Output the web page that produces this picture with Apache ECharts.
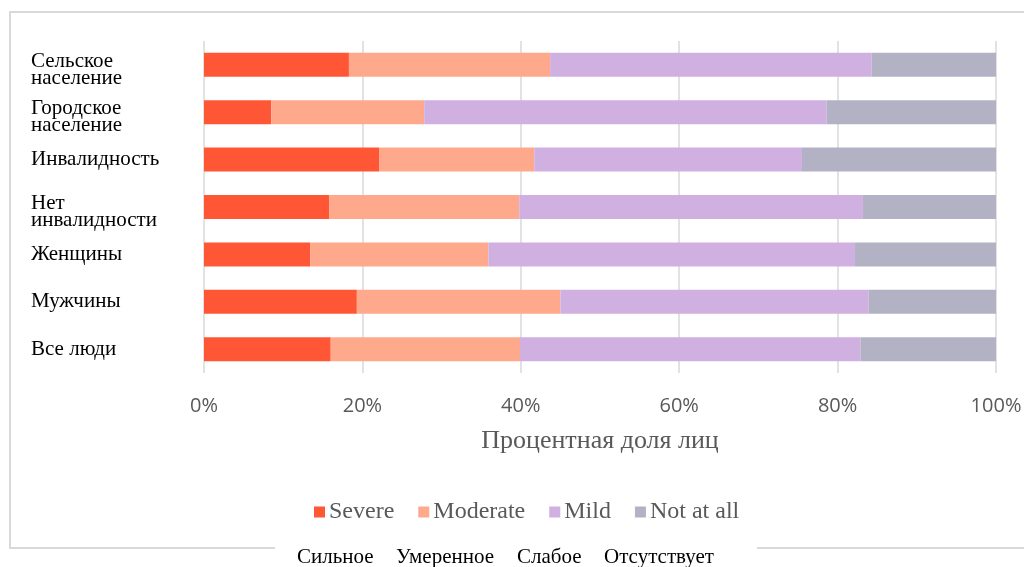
<!DOCTYPE html>
<html>
<head>
<meta charset="utf-8">
<script src="https://cdn.jsdelivr.net/npm/echarts@6/dist/echarts.min.js"></script>
<style>
  html, body { margin: 0; padding: 0; background: #fff; }
  #chart { width: 1024px; height: 567px; }
</style>
</head>
<body>
<div id="chart"></div>
<script>
// categories, top to bottom
const categories = [
  'Сельское\nнаселение',
  'Городское\nнаселение',
  'Инвалидность',
  'Нет\nинвалидности',
  'Женщины',
  'Мужчины',
  'Все люди',
];

// percentages
const severe   = [18.3,  8.5, 22.1, 15.8, 13.4, 19.3, 16.0];
const moderate = [25.4, 19.3, 19.6, 24.0, 22.5, 25.7, 23.9];
const mild     = [40.6, 50.8, 33.8, 43.4, 46.3, 38.9, 43.0];
const notAtAll = [15.7, 21.4, 24.5, 16.8, 17.8, 16.1, 17.1];

const seriesNames = ['Severe', 'Moderate', 'Mild', 'Not at all'];
const seriesColors = ['#FF5736', '#FFA98C', '#CFB0E1', '#B3B2C4'];
const xTicks = [0, 20, 40, 60, 80, 100];
const bottomWords = ['Сильное', 'Умеренное', 'Слабое', 'Отсутствует'];

const SERIF = '"Liberation Serif", "DejaVu Serif", serif';
const SANS = '"Open Sans", "Noto Sans", sans-serif';

const chart = echarts.init(document.getElementById('chart'));

const series = [severe, moderate, mild, notAtAll].map((vals, i) => ({
  name: seriesNames[i],
  type: 'bar',
  stack: 'total',
  barWidth: 24,
  data: vals,
  itemStyle: { color: seriesColors[i] },
  emphasis: { disabled: true },
}));

// positions of the translated words under the frame
const wordX = [297, 396, 517, 604];

const option = {
  backgroundColor: '#fff',
  animation: false,
  grid: { left: 204, right: 28, top: 41, bottom: 194, outerBoundsMode: 'none' },
  legend: {
    data: seriesNames,
    left: 314,
    top: 500,
    padding: 0,
    itemWidth: 11,
    itemHeight: 11,
    itemGap: 24,
    icon: 'rect',
    textStyle: { fontFamily: SERIF, fontSize: 24, color: '#595959', padding: [0, 0, 0, -1] },
  },
  xAxis: {
    type: 'value',
    min: xTicks[0],
    max: xTicks[xTicks.length - 1],
    interval: 20,
    axisLine: { show: false },
    axisTick: { show: false },
    axisLabel: {
      formatter: '{value}%',
      margin: 23,
      fontFamily: SANS,
      fontSize: 20,
      color: '#595959',
    },
    splitLine: { show: true, lineStyle: { color: '#d9d9d9', width: 1.5 } },
    name: 'Процентная доля лиц',
    nameLocation: 'middle',
    nameGap: 55,
    nameTextStyle: { fontFamily: SERIF, fontSize: 26, color: '#595959' },
  },
  yAxis: {
    type: 'category',
    inverse: true,
    data: categories,
    axisLine: { show: false },
    axisTick: { show: false },
    axisLabel: {
      align: 'left',
      margin: 173,
      fontFamily: SERIF,
      fontSize: 21,
      lineHeight: 17,
      color: '#000',
      // two-line labels sit a little below the bar centre in the original:
      // a thin empty first line pushes them down
      formatter: (v) => (v.indexOf('\n') >= 0 ? '{gap| }\n' + v : v),
      rich: { gap: { lineHeight: 10, fontSize: 4 } },
    },
  },
  graphic: [
    {
      type: 'rect',
      silent: true,
      shape: { x: 10, y: 12, width: 1100, height: 536 },
      style: { fill: 'none', stroke: '#d9d9d9', lineWidth: 2 },
      z: -1,
    },
    {
      type: 'rect',
      silent: true,
      shape: { x: 275, y: 544, width: 482, height: 23 },
      style: { fill: '#fff' },
      z: 0,
    },
  ].concat(bottomWords.map((w, i) => ({
    type: 'text',
    silent: true,
    x: wordX[i],
    y: 557,
    style: {
      text: w,
      fontFamily: SERIF,
      fontSize: 21,
      fill: '#000',
      verticalAlign: 'middle',
    },
    z: 1,
  }))),
  series,
};

chart.setOption(option);
</script>
</body>
</html>
